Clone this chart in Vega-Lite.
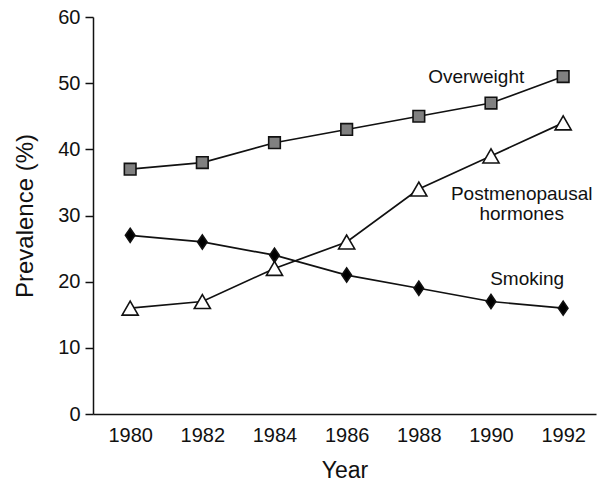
{
  "$schema": "https://vega.github.io/schema/vega-lite/v6.json",
  "width": 503,
  "height": 397,
  "autosize": "none",
  "padding": {"left": 93, "top": 17, "right": 1, "bottom": 67},
  "config": {
    "view": {"stroke": null},
    "font": "Liberation Sans",
    "axis": {"grid": false, "domainColor": "#111", "tickColor": "#111", "labelColor": "#111", "titleColor": "#111", "labelFont": "Liberation Sans", "titleFont": "Liberation Sans", "titleFontWeight": "normal", "domainWidth": 1.5, "tickWidth": 1.5}
  },
  "datasets": {
    "series": [
      {"year": 1980, "value": 37, "series": "Overweight"},
      {"year": 1982, "value": 38, "series": "Overweight"},
      {"year": 1984, "value": 41, "series": "Overweight"},
      {"year": 1986, "value": 43, "series": "Overweight"},
      {"year": 1988, "value": 45, "series": "Overweight"},
      {"year": 1990, "value": 47, "series": "Overweight"},
      {"year": 1992, "value": 51, "series": "Overweight"},
      {"year": 1980, "value": 27, "series": "Smoking"},
      {"year": 1982, "value": 26, "series": "Smoking"},
      {"year": 1984, "value": 24, "series": "Smoking"},
      {"year": 1986, "value": 21, "series": "Smoking"},
      {"year": 1988, "value": 19, "series": "Smoking"},
      {"year": 1990, "value": 17, "series": "Smoking"},
      {"year": 1992, "value": 16, "series": "Smoking"},
      {"year": 1980, "value": 16, "series": "Postmenopausal hormones"},
      {"year": 1982, "value": 17, "series": "Postmenopausal hormones"},
      {"year": 1984, "value": 22, "series": "Postmenopausal hormones"},
      {"year": 1986, "value": 26, "series": "Postmenopausal hormones"},
      {"year": 1988, "value": 34, "series": "Postmenopausal hormones"},
      {"year": 1990, "value": 39, "series": "Postmenopausal hormones"},
      {"year": 1992, "value": 44, "series": "Postmenopausal hormones"}
    ],
    "labels": [
      {"year": 1989.59, "value": 50.07, "label": "Overweight"},
      {"year": 1990.85, "value": 32.4, "label": "Postmenopausal\nhormones"},
      {"year": 1991.0, "value": 19.5, "label": "Smoking"}
    ]
  },
  "encoding": {
    "x": {
      "field": "year", "type": "quantitative",
      "scale": {"domain": [1978.97, 1992.91], "nice": false, "zero": false},
      "axis": {"values": [1980, 1982, 1984, 1986, 1988, 1990, 1992], "format": "d", "ticks": false, "tickSize": 0, "labelPadding": 11, "labelFontSize": 20, "title": "Year", "titleFontSize": 23, "titlePadding": 14}
    },
    "y": {
      "field": "value", "type": "quantitative",
      "scale": {"domain": [0, 60], "nice": false},
      "axis": {"values": [0, 10, 20, 30, 40, 50, 60], "tickSize": 8, "labelPadding": 5, "labelFontSize": 20, "title": "Prevalence (%)", "titleFontSize": 24, "titlePadding": 20}
    }
  },
  "layer": [
    {
      "data": {"name": "series"},
      "mark": {"type": "line", "color": "#111", "strokeWidth": 1.7},
      "encoding": {"detail": {"field": "series"}}
    },
    {
      "data": {"name": "series"},
      "mark": {"type": "point", "filled": true, "stroke": "#111", "strokeWidth": 1.6, "opacity": 1},
      "encoding": {
        "shape": {"field": "series", "type": "nominal", "legend": null,
          "scale": {"domain": ["Overweight", "Smoking", "Postmenopausal hormones"], "range": ["square", "M0,-1L0.68,0L0,1L-0.68,0Z", "triangle-up"]}},
        "fill": {"field": "series", "type": "nominal", "legend": null,
          "scale": {"domain": ["Overweight", "Smoking", "Postmenopausal hormones"], "range": ["#808080", "#000000", "#ffffff"]}},
        "size": {"field": "series", "type": "nominal", "legend": null,
          "scale": {"domain": ["Overweight", "Smoking", "Postmenopausal hormones"], "range": [135, 260, 260]}}
      }
    },
    {
      "data": {"name": "labels"},
      "mark": {"type": "text", "fontSize": 19, "lineBreak": "\n", "lineHeight": 20, "color": "#111", "align": "center", "baseline": "alphabetic", "font": "Liberation Sans"},
      "encoding": {"text": {"field": "label"}}
    }
  ]
}
